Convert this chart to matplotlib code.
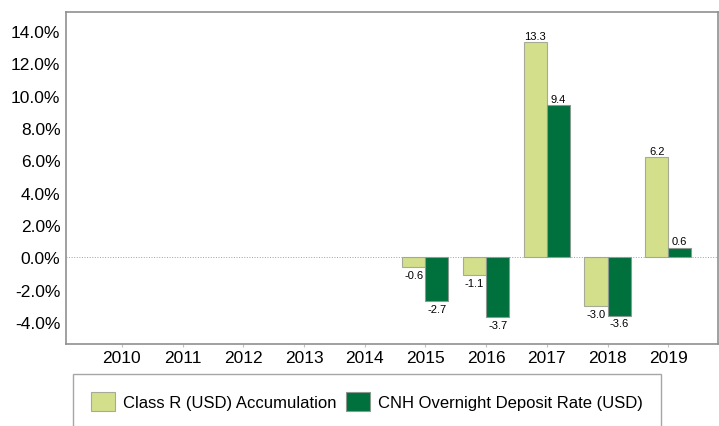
import numpy as np
import matplotlib
matplotlib.use("Agg")
import matplotlib.pyplot as plt
from matplotlib.ticker import FuncFormatter

plt.rcParams['font.family'] = ['Liberation Sans', 'DejaVu Sans']

# data
years = ['2010', '2011', '2012', '2013', '2014', '2015', '2016', '2017', '2018', '2019']
class_r = [np.nan, np.nan, np.nan, np.nan, np.nan, -0.6, -1.1, 13.3, -3.0, 6.2]
cnh_rate = [np.nan, np.nan, np.nan, np.nan, np.nan, -2.7, -3.7, 9.4, -3.6, 0.6]
series_names = ['Class R (USD) Accumulation', 'CNH Overnight Deposit Rate (USD)']

light_green = '#d3df8b'
dark_green = '#00703c'

fig = plt.figure(figsize=(7.19, 4.27), dpi=100)
ax = fig.add_axes([0.0918, 0.192, 0.9068, 0.7776])

x = np.arange(len(years))
w = 0.38
b1 = ax.bar(x - w / 2, class_r, w, color=light_green, edgecolor='#a8aa98', linewidth=0.8,
            label=series_names[0])
b2 = ax.bar(x + w / 2, cnh_rate, w, color=dark_green, edgecolor='#8a9a90', linewidth=0.8,
            label=series_names[1])

# value labels
for bars, vals in [(b1, class_r), (b2, cnh_rate)]:
    for rect, v in zip(bars, vals):
        if np.isnan(v):
            continue
        cx = rect.get_x() + rect.get_width() / 2
        if v >= 0:
            ax.annotate(f'{v:.1f}', (cx, v), xytext=(0, 1), textcoords='offset points',
                        ha='center', va='bottom', fontsize=8)
        else:
            ax.annotate(f'{v:.1f}', (cx, v), xytext=(0, -2), textcoords='offset points',
                        ha='center', va='top', fontsize=8)

ax.axhline(0, color='#a0a0a0', linewidth=0.7, linestyle=':')

ax.set_ylim(-5.36, 15.17)
ax.set_xlim(-0.92, 9.82)
ax.set_yticks(np.arange(-4, 15, 2))
ax.yaxis.set_major_formatter(FuncFormatter(lambda v, p: f'{v:.1f}%'))
ax.set_xticks(x)
ax.set_xticklabels(years)
ax.tick_params(axis='y', length=0, labelsize=12.5, pad=4)
ax.tick_params(axis='x', length=2, color='#c0c0c0', labelsize=12.5, pad=2)

for s in ax.spines.values():
    s.set_color('#909090')
    s.set_linewidth(1.2)

fig.legend(loc='upper left', bbox_to_anchor=(0.1015, 0.1218), ncol=2, fontsize=12,
           frameon=True, fancybox=False, edgecolor='#909090', borderpad=1.1,
           handlelength=1.44, handleheight=1.38, handletextpad=0.48, columnspacing=0.54,
           borderaxespad=0)

fig.savefig('out.png', dpi=100)
